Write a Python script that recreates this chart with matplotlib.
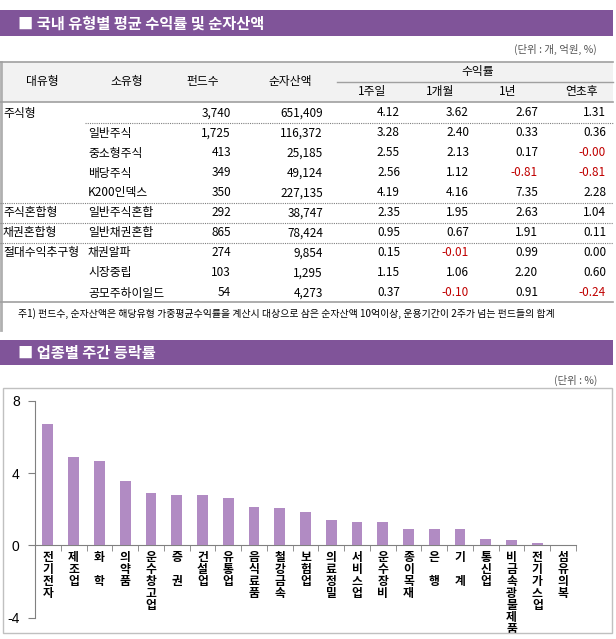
import numpy as np
import matplotlib
matplotlib.use('Agg')
import matplotlib.pyplot as plt
from matplotlib.lines import Line2D
from matplotlib.patches import Rectangle

plt.rcParams['font.family'] = ['Noto Sans CJK KR', 'DejaVu Sans']

# ---- table data ----
big_types = ['주식형', '', '', '', '', '주식혼합형', '채권혼합형', '절대수익추구형', '', '']
sub_types = ['', '일반주식', '중소형주식', '배당주식', 'K200인덱스', '일반주식혼합',
             '일반채권혼합', '채권알파', '시장중립', '공모주하이일드']
fund_cnt = [3740, 1725, 413, 349, 350, 292, 865, 274, 103, 54]
net_assets = [651409, 116372, 25185, 49124, 227135, 38747, 78424, 9854, 1295, 4273]
ret_1w = [4.12, 3.28, 2.55, 2.56, 4.19, 2.35, 0.95, 0.15, 1.15, 0.37]
ret_1m = [3.62, 2.40, 2.13, 1.12, 4.16, 1.95, 0.67, -0.01, 1.06, -0.10]
ret_1y = [2.67, 0.33, 0.17, -0.81, 7.35, 2.63, 1.91, 0.99, 2.20, 0.91]
ret_ytd = [1.31, 0.36, -0.0, -0.81, 2.28, 1.04, 0.11, 0.00, 0.60, -0.24]

# ---- sector chart data ----
sectors = ['전기전자', '제조업', '화 학', '의약품', '운수창고업', '증 권', '건설업', '유통업',
           '음식료품', '철강금속', '보험업', '의료정밀', '서비스업', '운수장비', '종이목재',
           '은 행', '기 계', '통신업', '비금속광물제품', '전기가스업', '섬유의복']
weekly = [6.72, 4.86, 4.68, 3.54, 2.91, 2.80, 2.80, 2.63, 2.14, 2.08, 1.86,
          1.42, 1.31, 1.31, 0.92, 0.92, 0.92, 0.37, 0.31, 0.15, 0.0]
y_ticks = [-4, 0, 4, 8]

W, H = 616, 639
purple = '#805499'
bar_col = '#b18bc3'
neg_red = '#c00000'
line_gray = '#a0a0a0'

fig = plt.figure(figsize=(W / 100, H / 100), dpi=100)


def fx(x):
    return x / W


def fy(y):
    return 1 - y / H


def hline(y, x0, x1, **kw):
    fig.add_artist(Line2D([fx(x0), fx(x1)], [fy(y), fy(y)], transform=fig.transFigure, **kw))


def txt(x, y, s, **kw):
    kw.setdefault('fontsize', 8.5)
    kw.setdefault('va', 'center')
    fig.text(fx(x), fy(y), s, **kw)


# ---- title bars ----
for y0, y1, title in [(10, 36, '■ 국내 유형별 평균 수익률 및 순자산액'), (340, 365, '■ 업종별 주간 등락률')]:
    fig.add_artist(Rectangle((0, fy(y1)), fx(613), (y1 - y0) / H, transform=fig.transFigure,
                             color=purple, lw=0))
    txt(18, (y0 + y1) / 2 + 0.5, title, color='white', fontsize=11, fontweight='bold')

txt(597, 49, '(단위 : 개, 억원, %)', ha='right', fontsize=7.5, color='#555555')
txt(597, 380, '(단위 : %)', ha='right', fontsize=7.5, color='#555555')

# left border
fig.add_artist(Line2D([fx(1), fx(1)], [fy(62), fy(330)], transform=fig.transFigure,
                      color='#b0b0b0', lw=2))

# ---- table header ----
fig.add_artist(Rectangle((0, fy(102)), fx(613), 40 / H, transform=fig.transFigure,
                         color='#f2f2f2', lw=0))
hline(62, 0, 613, color=line_gray, lw=1.2)
hline(81.5, 337, 613, color=line_gray, lw=1)
hline(102, 0, 613, color=line_gray, lw=1.2)
txt(42, 82, '대유형', ha='center')
txt(127, 82, '소유형', ha='center')
txt(203, 82, '펀드수', ha='center')
txt(290, 82, '순자산액', ha='center')
txt(478, 72, '수익률', ha='center')
for xc, lab in zip([372, 440, 508, 582], ['1주일', '1개월', '1년', '연초후']):
    txt(xc, 92, lab, ha='center')

# ---- table rows ----
ret_cols = [(400, ret_1w), (469, ret_1m), (538, ret_1y), (606, ret_ytd)]
for i in range(len(sub_types)):
    yr = 113 + 20 * i
    txt(3, yr, big_types[i], ha='left')
    txt(88, yr, sub_types[i], ha='left')
    txt(231, yr, f'{fund_cnt[i]:,}', ha='right')
    txt(323, yr, f'{net_assets[i]:,}', ha='right')
    for xr, vals in ret_cols:
        v = vals[i]
        s = f'{v:.2f}'
        txt(xr, yr, s, ha='right', color=neg_red if s.startswith('-') else 'black')

hline(123, 85, 613, color='#808080', lw=0.8, ls=(0, (1, 1)))
for yd in [203, 223, 243]:
    hline(yd, 0, 613, color='#808080', lw=0.8, ls=(0, (1, 1)))
hline(302, 0, 613, color=line_gray, lw=1.2)

txt(18, 314, '주1) 펀드수, 순자산액은 해당유형 가중평균수익률을 계산시 대상으로 삼은 순자산액 10억이상, '
             '운용기간이 2주가 넘는 펀드들의 합계', ha='left', fontsize=7.1)

# ---- sector bar chart ----
fig.add_artist(Rectangle((fx(3), fy(633)), fx(609), (633 - 388) / H, transform=fig.transFigure,
                         fill=False, ec='#c0c0c0', lw=1))

ax = fig.add_axes([fx(35), fy(617.7), fx(541), 217 / H])
x = np.arange(len(sectors))
ax.bar(x, weekly, width=0.42, color=bar_col, zorder=3)
ax.set_xlim(-0.5, len(sectors) - 0.5)
ax.set_ylim(-4, 8)
ax.patch.set_alpha(0)

for side in ['top', 'right']:
    ax.spines[side].set_visible(False)
ax.spines['left'].set_color('#808080')
ax.spines['bottom'].set_color('#808080')
ax.spines['bottom'].set_position(('data', 0))

ax.set_yticks(y_ticks)
ax.set_yticklabels([str(t) for t in y_ticks], fontsize=10, family='Liberation Sans')
ax.tick_params(axis='y', length=5, color='#808080', pad=6)


def vert(s):
    parts = []
    for ch in s:
        parts.append('' if ch == ' ' else ch)
    return '\n'.join(parts)


ax.set_xticks(x)
ax.set_xticklabels([vert(s) for s in sectors], fontsize=8.5, fontweight='bold', linespacing=0.9)
ax.tick_params(axis='x', which='major', length=0, pad=4)
ax.set_xticks(np.arange(len(sectors) + 1) - 0.5, minor=True)
ax.tick_params(axis='x', which='minor', length=4, color='#808080', direction='out')

fig.savefig('out.png', dpi=100)
